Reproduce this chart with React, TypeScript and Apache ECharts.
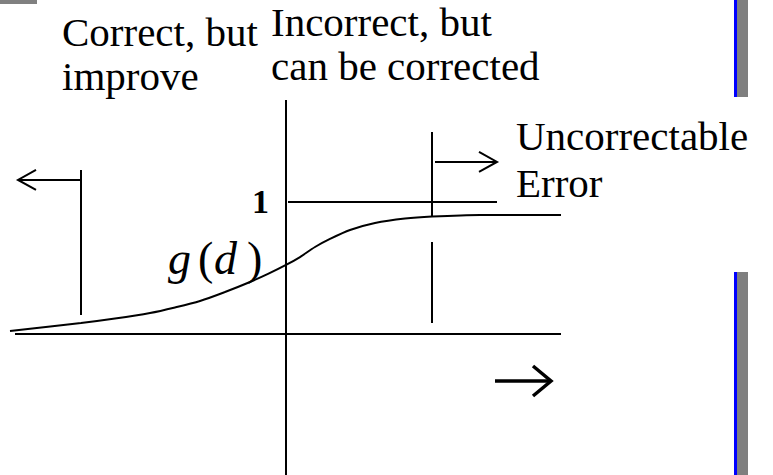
import React, { useEffect, useRef } from "react";
import * as echarts from "echarts";

// Sigmoid-like curve g(d): [d, g]
const curveD = [-5.52, -4.1, -3.42, -2.72, -2.22, -1.72, -1.22, -0.72, -0.36, 0, 0.28, 0.58, 0.88, 1.28, 1.78, 2.38, 2.92, 3.88, 5.5];
const curveG = [0.023, 0.083, 0.117, 0.159, 0.201, 0.25, 0.318, 0.394, 0.455, 0.523, 0.583, 0.659, 0.72, 0.788, 0.841, 0.875, 0.89, 0.902, 0.902];

// Axis segments [d1, g1, d2, g2]
const axisSegments = [
  [-5.42, 0, 5.5, 0],
  [0, 1.773, 0, -1.07],
];
// Level g = 1 line
const levelSegments = [[0.04, 1, 4.22, 1]];
// Threshold markers
const markerSegments = [
  [-4.1, 1.242, -4.1, 0.144],
  [2.92, 1.53, 2.92, 0.886],
  [2.92, 0.697, 2.92, 0.083],
];
// Arrows [tailD, tailG, tipD, tipG]
const thinArrows = [
  [-4.1, 1.167, -5.36, 1.167],
  [2.98, 1.303, 4.22, 1.303],
];
const boldArrows = [[4.18, -0.356, 5.3, -0.356]];

const yTickLabels = [1];

const region1 = ["Correct, but", "improve"];
const region2 = ["Incorrect, but", "can be corrected"];
const region3 = ["Uncorrectable", "Error"];

const FONT = "'Liberation Serif', 'Times New Roman', serif";

export default function App() {
  const ref = useRef<HTMLDivElement>(null);

  useEffect(() => {
    if (!ref.current) return;
    const chart = echarts.init(ref.current, null, { renderer: "svg" });

    const segRender = (lw: number) => (params: any, api: any) => {
      const p1 = api.coord([api.value(0), api.value(1)]);
      const p2 = api.coord([api.value(2), api.value(3)]);
      return {
        type: "line",
        shape: { x1: p1[0], y1: p1[1], x2: p2[0], y2: p2[1] },
        style: { stroke: "#000", lineWidth: lw },
      };
    };

    const arrowRender = (lw: number, L: number, W: number) => (params: any, api: any) => {
      const t = api.coord([api.value(0), api.value(1)]);
      const h = api.coord([api.value(2), api.value(3)]);
      const dx = h[0] - t[0];
      const dy = h[1] - t[1];
      const len = Math.sqrt(dx * dx + dy * dy) || 1;
      const ux = dx / len;
      const uy = dy / len;
      const nx = -uy;
      const ny = ux;
      const bx = h[0] - ux * L;
      const by = h[1] - uy * L;
      return {
        type: "group",
        children: [
          {
            type: "line",
            shape: { x1: t[0], y1: t[1], x2: h[0], y2: h[1] },
            style: { stroke: "#000", lineWidth: lw },
          },
          {
            type: "polyline",
            shape: {
              points: [
                [bx + nx * W, by + ny * W],
                [h[0], h[1]],
                [bx - nx * W, by - ny * W],
              ],
            },
            style: { stroke: "#000", lineWidth: lw, fill: "none", lineJoin: "miter" },
          },
        ],
      };
    };

    const textStyle = (s: string, x: number, y: number) => ({
      type: "text",
      x,
      y,
      style: {
        text: s,
        font: `41px ${FONT}`,
        fill: "#000",
        verticalAlign: "middle",
        align: "left",
      },
    });

    const baseGraphics: any[] = [
      { type: "rect", shape: { x: 0, y: 0, width: 37, height: 4 }, style: { fill: "#808080" } },
      { type: "rect", shape: { x: 734, y: 0, width: 3, height: 97 }, style: { fill: "#0000ff" } },
      { type: "rect", shape: { x: 737, y: 0, width: 11, height: 97 }, style: { fill: "#7f7f7f" } },
      { type: "rect", shape: { x: 734, y: 272, width: 3, height: 203 }, style: { fill: "#0000ff" } },
      { type: "rect", shape: { x: 737, y: 272, width: 11, height: 203 }, style: { fill: "#7f7f7f" } },
      textStyle(region1[0], 62, 32),
      textStyle(region1[1], 62, 76),
      textStyle(region2[0], 271, 22),
      textStyle(region2[1], 271, 66),
      textStyle(region3[0], 516, 136),
      textStyle(region3[1], 516, 183),
      { type: "text", x: 168, y: 258, style: { text: "g", font: `italic 46px ${FONT}`, fill: "#000", verticalAlign: "middle" } },
      { type: "text", x: 198, y: 258, style: { text: "(", font: `46px ${FONT}`, fill: "#000", verticalAlign: "middle" } },
      { type: "text", x: 214, y: 258, style: { text: "d", font: `italic 46px ${FONT}`, fill: "#000", verticalAlign: "middle" } },
      { type: "text", x: 247, y: 258, style: { text: ")", font: `46px ${FONT}`, fill: "#000", verticalAlign: "middle" } },
    ];

    const option: any = {
      animation: false,
      backgroundColor: "#fff",
      grid: { left: 0, right: 0, top: 0, bottom: 0, containLabel: false, outerBoundsMode: "none" },
      xAxis: {
        type: "value",
        min: -5.72,
        max: 9.74,
        axisLine: { show: false, onZero: false },
        axisTick: { show: false },
        axisLabel: { show: false },
        splitLine: { show: false },
      },
      yAxis: {
        type: "value",
        min: -1.068,
        max: 2.53,
        axisLine: { show: false, onZero: false },
        axisTick: { show: false },
        axisLabel: { show: false },
        splitLine: { show: false },
      },
      series: [
        {
          type: "line",
          data: curveD.map((d, i) => [d, curveG[i]]),
          smooth: 0.3,
          showSymbol: false,
          lineStyle: { color: "#000", width: 2 },
          silent: true,
        },
        { type: "custom", renderItem: segRender(2), data: axisSegments, silent: true },
        { type: "custom", renderItem: segRender(2), data: levelSegments, silent: true },
        { type: "custom", renderItem: segRender(2), data: markerSegments, silent: true },
        { type: "custom", renderItem: arrowRender(2, 18, 10), data: thinArrows, silent: true },
        { type: "custom", renderItem: arrowRender(3.5, 18, 15), data: boldArrows, silent: true },
      ],
      graphic: baseGraphics,
    };

    chart.setOption(option);

    // Tick label "1" placed through the axis scale
    const tickGraphics = yTickLabels.map((v) => {
      const p = chart.convertToPixel({ gridIndex: 0 }, [0, v]) as number[];
      return {
        type: "text",
        x: p[0] - 17,
        y: p[1],
        style: {
          text: String(v),
          fontFamily: "Liberation Serif",
          fontSize: 34,
          fontWeight: "bold",
          fill: "#000",
          align: "right",
          verticalAlign: "middle",
        },
      };
    });
    chart.setOption({ graphic: [...baseGraphics, ...tickGraphics] }, { replaceMerge: ["graphic"] });

    return () => chart.dispose();
  }, []);

  return (
    <div
      ref={ref}
      style={{ position: "fixed", left: 0, top: 0, width: 773, height: 475, background: "#fff" }}
    />
  );
}
